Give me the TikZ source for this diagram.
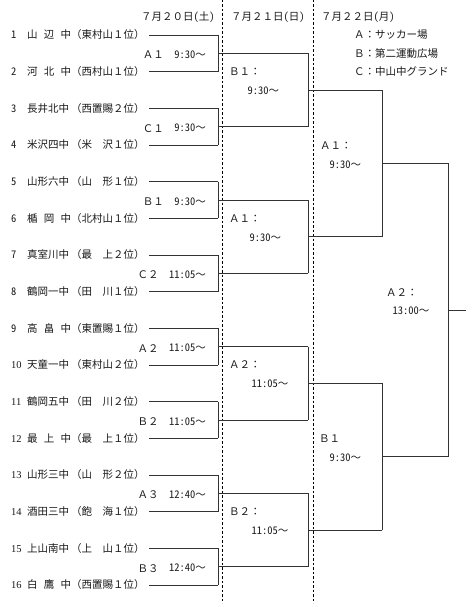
\documentclass[tikz,border=0pt]{standalone}
\usepackage{fontspec}
\setmainfont{Noto Sans CJK JP}
\newfontfamily\hw[RawFeature=+hwid]{Noto Sans CJK JP}
\newfontfamily\serifnum{Liberation Serif}
\newcommand\tm[1]{{\hw #1}～}
\begin{document}
\begin{tikzpicture}[x=1pt,y=-1pt,
  every node/.style={inner sep=0pt, font=\fontsize{10.5}{12}\selectfont, text=black!90},
  ln/.style={draw=black!80, line width=0.9pt},
  sep/.style={draw=black, line width=0.8pt, dash pattern=on 2.5pt off 2pt}]
\useasboundingbox (0,0) rectangle (475,607);
% separators
\coordinate (d1t) at (222,0); \coordinate (d1b) at (222,603);
\coordinate (d2t) at (313,0); \coordinate (d2b) at (313,603);
\draw[sep] (d1t) -- (d1b);
\draw[sep] (d2t) -- (d2b);
% headers
\node[anchor=west] (h1) at (141,17) {７月２０日{\hw(}土{\hw)}};
\node[anchor=west] (h2) at (231,17) {７月２１日{\hw(}日{\hw)}};
\node[anchor=west] (h3) at (321,17) {７月２２日{\hw(}月{\hw)}};
% legend
\node[anchor=west] (lg1) at (354,35) {Ａ：サッカー場};
\node[anchor=west] (lg2) at (354,53.5) {Ｂ：第二運動広場};
\node[anchor=west] (lg3) at (354,72) {Ｃ：中山中グランド};
% teams
\foreach \i/\n/\nm/\af in {
1/{\hw 1}/山\hfill 辺\hfill 中/東村山１位,
2/{\hw 2}/河\hfill 北\hfill 中/西村山１位,
3/{\hw 3}/長井北中/西置賜２位,
4/{\hw 4}/米沢四中/米　沢１位,
5/{\hw 5}/山形六中/山　形１位,
6/{\hw 6}/楯\hfill 岡\hfill 中/北村山１位,
7/{\hw 7}/真室川中/最　上２位,
8/{\hw 8}/鶴岡一中/田　川１位,
9/{\hw 9}/高\hfill 畠\hfill 中/東置賜１位,
10/{\serifnum 10}/天童一中/東村山２位,
11/{\serifnum 11}/鶴岡五中/田　川２位,
12/{\serifnum 12}/最\hfill 上\hfill 中/最　上１位,
13/{\serifnum 13}/山形三中/山　形２位,
14/{\serifnum 14}/酒田三中/飽　海１位,
15/{\serifnum 15}/上山南中/上　山１位,
16/{\serifnum 16}/白\hfill 鷹\hfill 中/西置賜１位}{
  \pgfmathsetmacro\yy{35+(\i-1)*36.6667}
  \node[anchor=west] (t\i) at (11,\yy) {\makebox[16pt][l]{\n}\makebox[44pt][s]{\nm}（\af）};
  \coordinate (a\i) at (149,\yy);
  \coordinate (b\i) at (218,\yy);
  \draw[ln] (a\i) -- (b\i);
}
% round 1
\foreach \j/\c/\t in {1/Ａ１/9:30,2/Ｃ１/9:30,3/Ｂ１/9:30,4/Ｃ２/11:05,5/Ａ２/11:05,6/Ｂ２/11:05,7/Ａ３/12:40,8/Ｂ３/12:40}{
  \pgfmathtruncatemacro\p{2*\j-1}
  \pgfmathtruncatemacro\q{2*\j}
  \pgfmathsetmacro\yy{35+(2*\j-1.5)*36.6667}
  \coordinate (ma\j) at (218,\yy);
  \coordinate (me\j) at (308,\yy);
  \draw[ln] (b\p) -- (b\q);
  \draw[ln] (ma\j) -- (me\j);
  \node[anchor=east] (rt\j) at (206,\yy+1.5) {\tm{\t}};
  \node[anchor=east] (rc\j) at ([xshift=-10pt]rt\j.west) {\c};
}
% round 2
\foreach \k in {1,2,3,4}{
  \pgfmathtruncatemacro\p{2*\k-1}
  \pgfmathtruncatemacro\q{2*\k}
  \pgfmathsetmacro\yy{35+(4*\k-2.5)*36.6667}
  \coordinate (na\k) at (308,\yy);
  \coordinate (ne\k) at (382,\yy);
  \draw[ln] (me\p) -- (me\q);
  \draw[ln] (na\k) -- (ne\k);
}
\node[anchor=west] (sc1) at (229,72) {Ｂ１：};
\node[anchor=west] (st1) at (247.5,91) {\tm{9:30}};
\node[anchor=west] (sc2) at (229,218.5) {Ａ１：};
\node[anchor=west] (st2) at (249.5,237.5) {\tm{9:30}};
\node[anchor=west] (sc3) at (229,365) {Ａ２：};
\node[anchor=west] (st3) at (251.5,384) {\tm{11:05}};
\node[anchor=west] (sc4) at (229,512) {Ｂ２：};
\node[anchor=west] (st4) at (251.5,531) {\tm{11:05}};
% round 3
\foreach \m in {1,2}{
  \pgfmathtruncatemacro\p{2*\m-1}
  \pgfmathtruncatemacro\q{2*\m}
  \pgfmathsetmacro\yy{35+(8*\m-4.5)*36.6667}
  \coordinate (oa\m) at (382,\yy);
  \coordinate (oe\m) at (448,\yy);
  \draw[ln] (ne\p) -- (ne\q);
  \draw[ln] (oa\m) -- (oe\m);
}
\node[anchor=west] (tc1) at (320,145.5) {Ａ１：};
\node[anchor=west] (tt1) at (329.5,164.5) {\tm{9:30}};
\node[anchor=west] (tc2) at (319,438.5) {Ｂ１};
\node[anchor=west] (tt2) at (329.5,458) {\tm{9:30}};
% final
\coordinate (fa) at (448,310);
\coordinate (fe) at (466,310);
\draw[ln] (oe1) -- (oe2);
\draw[ln] (fa) -- (fe);
\node[anchor=west] (fc) at (386,293) {Ａ２：};
\node[anchor=west] (ft) at (392.5,311) {\tm{13:00}};
\end{tikzpicture}
\end{document}
